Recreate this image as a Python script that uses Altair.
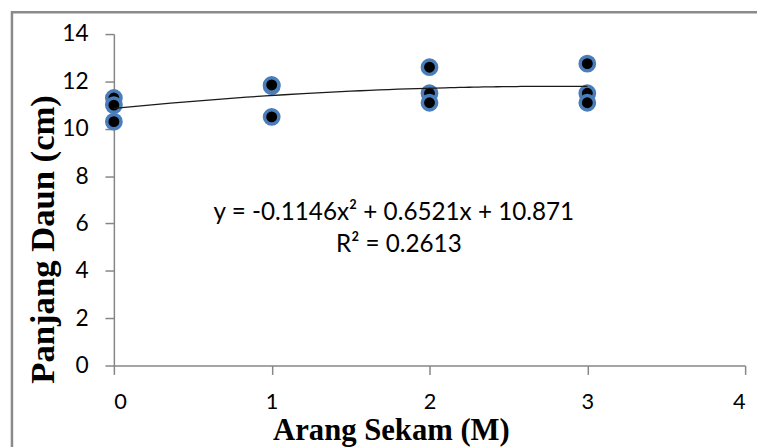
import altair as alt
import pandas as pd

# ---- data ----
x_vals = [0, 0, 0, 1, 1, 1, 2, 2, 2, 3, 3, 3]
y_vals = [11.3, 11.0, 10.3, 11.8, 11.85, 10.5, 12.6, 11.5, 11.1, 12.75, 11.5, 11.1]
x_ticks = [0, 1, 2, 3, 4]
y_ticks = [0, 2, 4, 6, 8, 10, 12, 14]
equation = "y = -0.1146x\u00b2 + 0.6521x + 10.871"
r_squared = "R\u00b2 = 0.2613"
x_title = "Arang Sekam (M)"
y_title = "Panjang Daun (cm)"

df = pd.DataFrame({"x": x_vals, "y": y_vals})
one = pd.DataFrame({"k": [0]})

AX = "#868686"
xs = alt.Scale(domain=[0, 4], nice=False, zero=False)
ys = alt.Scale(domain=[0, 14], nice=False)

x_axis = alt.Axis(
    values=x_ticks, title=x_title, grid=False, format="d",
    domainColor=AX, domainWidth=1.5, tickColor=AX, tickWidth=1.5, tickSize=9,
    labelFont="Lato", labelFontSize=22, labelColor="#000", labelPadding=17,
    titleFont="Liberation Serif", titleFontWeight="bold", titleFontSize=31,
    titleColor="#000", titleX=280, titleY=75, titleAlign="center",
    titleBaseline="alphabetic",
)
y_axis = alt.Axis(
    values=y_ticks, title=y_title, grid=False, format="d",
    domainColor=AX, domainWidth=1.5, tickColor=AX, tickWidth=1.5, tickSize=9,
    labelFont="Lato", labelFontSize=23, labelColor="#000", labelPadding=17,
    titleFont="Liberation Serif", titleFontWeight="bold", titleFontSize=35,
    titleColor="#000", titleX=-72, titleY=207, titleAngle=270,
    titleAlign="center", titleBaseline="middle",
)

base = alt.Chart(df)

points = base.mark_circle(
    size=210, fill="black", stroke="#4a7ebb", strokeWidth=3.5, opacity=1
).encode(
    x=alt.X("x:Q", scale=xs, axis=x_axis),
    y=alt.Y("y:Q", scale=ys, axis=y_axis),
)

trend = base.transform_regression(
    "x", "y", method="poly", order=2, extent=[0, 3]
).mark_line(color="#1a1a1a", strokeWidth=1.3).encode(
    x=alt.X("x:Q", scale=xs),
    y=alt.Y("y:Q", scale=ys),
)

eq_text = alt.Chart(one).mark_text(
    text=equation, font="Lato", fontSize=24.5, color="#000", align="center",
    baseline="middle",
).encode(x=alt.value(283), y=alt.value(181))

r2_text = alt.Chart(one).mark_text(
    text=r_squared, font="Lato", fontSize=24.5, color="#000", align="center",
    baseline="middle",
).encode(x=alt.value(288), y=alt.value(213))

border_top = alt.Chart(one).mark_rule(color="#8a8a8a", strokeWidth=2.5).encode(
    x=alt.value(-104), x2=alt.value(660), y=alt.value(-22)
)
border_left = alt.Chart(one).mark_rule(color="#8a8a8a", strokeWidth=2.5).encode(
    x=alt.value(-103), y=alt.value(-23), y2=alt.value(430)
)

chart = alt.layer(
    border_top, border_left, points, trend, eq_text, r2_text
).properties(
    width=638, height=335,
    autosize=alt.AutoSizeParams(type="none"),
    padding={"left": 107, "top": 24, "right": 12, "bottom": 80},
    background="white",
).configure_view(stroke=None)

chart.save("out.html", embed_options={"renderer": "svg", "actions": False})
